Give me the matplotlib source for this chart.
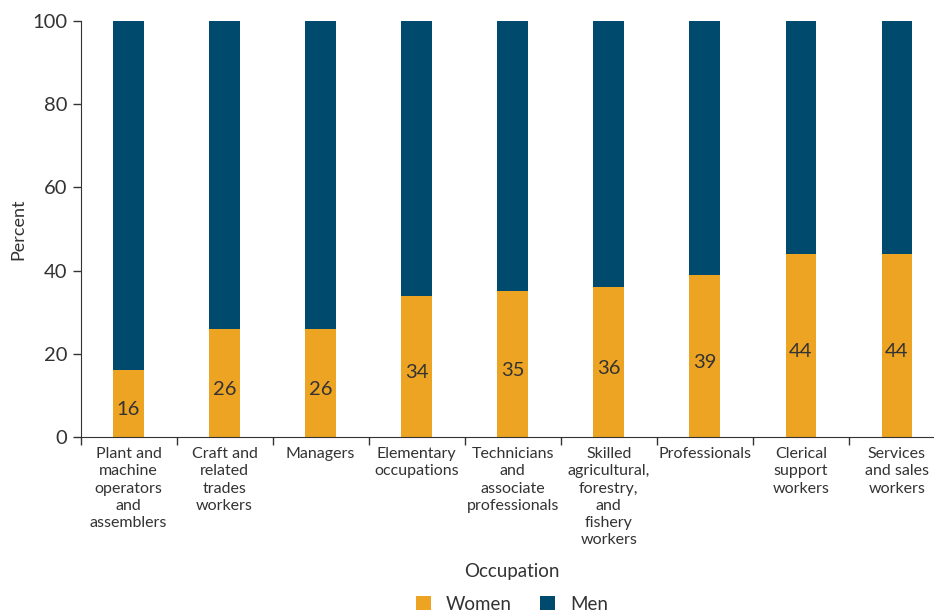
import matplotlib
matplotlib.use("Agg")
import matplotlib.pyplot as plt
import numpy as np

categories = ["Plant and\nmachine\noperators\nand\nassemblers",
              "Craft and\nrelated\ntrades\nworkers",
              "Managers",
              "Elementary\noccupations",
              "Technicians\nand\nassociate\nprofessionals",
              "Skilled\nagricultural,\nforestry,\nand\nfishery\nworkers",
              "Professionals",
              "Clerical\nsupport\nworkers",
              "Services\nand sales\nworkers"]
women = [16, 26, 26, 34, 35, 36, 39, 44, 44]
men = [100 - w for w in women]

ORANGE = "#EDA423"
NAVY = "#004A6D"
TXT = "#333333"

plt.rcParams['font.family'] = ['Lato', 'DejaVu Sans']
fig = plt.figure(figsize=(9.34, 6.13), dpi=100)
ax = fig.add_axes([80.5/934, 1-437/613, (945-80.5)/934, (437-21)/613])

x = np.arange(len(categories))
ax.bar(x, women, width=0.32, color=ORANGE, label="Women")
ax.bar(x, men, width=0.32, bottom=women, color=NAVY, label="Men")
for xi, w in zip(x, women):
    ax.text(xi, w/2 - 1.5, str(w), ha='center', va='center', fontsize=14.5, color=TXT)

ax.set_xlim(-0.5, len(categories)-0.5)
ax.set_ylim(0, 100)
ax.set_yticks([0, 20, 40, 60, 80, 100])
ax.tick_params(axis='y', labelsize=14.5, colors=TXT, length=6, width=1)
ax.set_xticks(np.arange(len(categories)+1) - 0.5)
ax.set_xticklabels([])
ax.tick_params(axis='x', length=6, width=1, colors=TXT)
for xi, c in zip(x, categories):
    ax.text(xi, -2.4, c, ha='center', va='top', fontsize=11.5, color=TXT,
            linespacing=1.3, transform=ax.transData)
for s in ['top', 'right']:
    ax.spines[s].set_visible(False)
for s in ['left', 'bottom']:
    ax.spines[s].set_color(TXT)
ax.set_ylabel("Percent", fontsize=13, color=TXT, labelpad=4)
fig.text(512/934, 1-571/613, "Occupation", ha='center', va='center', fontsize=13.5, color=TXT)
handles, labels = ax.get_legend_handles_labels()
fig.legend(handles, labels, loc='center', bbox_to_anchor=(512/934, 1-604/613), ncol=2,
           frameon=False, fontsize=13.5, handlelength=0.8, handleheight=0.8,
           columnspacing=1.5, handletextpad=0.8, labelcolor=TXT)
fig.savefig("out.png", dpi=100)
